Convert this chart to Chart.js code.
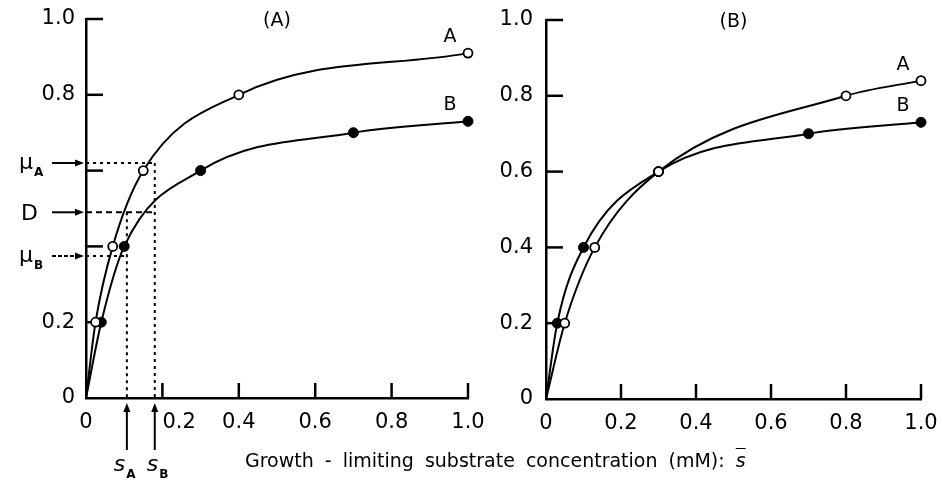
<!DOCTYPE html>
<html>
<head>
<meta charset="utf-8">
<script src="https://cdn.jsdelivr.net/npm/chart.js@4"></script>
<style>
  html, body { margin: 0; padding: 0; background: #fff; }
  #wrap { position: relative; width: 942px; height: 484px; overflow: hidden; }
  .panel { position: absolute; top: 0; height: 484px; }
  #pa { left: 0; width: 510px; }
  #pb { left: 480px; width: 462px; }
  #xtitle {
    position: absolute; left: 245px; top: 448px; white-space: nowrap;
    font-family: "DejaVu Sans", sans-serif; font-size: 19px; line-height: 24px; color: #000;
    word-spacing: 5px;
  }
  #xtitle i { text-decoration: overline; }
</style>
</head>
<body>
<div id="wrap">
  <div class="panel" id="pa"><canvas id="chartA"></canvas></div>
  <div class="panel" id="pb"><canvas id="chartB"></canvas></div>
  <div id="xtitle">Growth - limiting substrate concentration (mM): <i>s</i></div>
</div>
<script>
// tick values
const xTicks = [0, 0.2, 0.4, 0.6, 0.8, 1.0];
const yTicks = [0, 0.2, 0.4, 0.6, 0.8, 1.0];

// panel (A): substrate (mM) and growth rate for organisms A and B
const aSubA = [0, 0.025, 0.07, 0.15, 0.4, 1.0];
const aRateA = [0, 0.2, 0.4, 0.6, 0.8, 0.91];
const aSubB = [0, 0.04, 0.1, 0.3, 0.7, 1.0];
const aRateB = [0, 0.2, 0.4, 0.6, 0.7, 0.73];

// panel (B)
const bSubA = [0, 0.05, 0.13, 0.3, 0.8, 1.0];
const bRateA = [0, 0.2, 0.4, 0.6, 0.8, 0.84];
const bSubB = [0, 0.03, 0.1, 0.3, 0.7, 1.0];
const bRateB = [0, 0.2, 0.4, 0.6, 0.7, 0.73];

// steady state marks in panel (A)
const muA = 0.62;
const dilution = 0.49;
const muB = 0.375;
const sA = 0.107;
const sB = 0.18;

const FONT = '"DejaVu Sans", sans-serif';

function series(xs, ys, open, order) {
  return {
    data: xs.map((x, i) => ({ x: x, y: ys[i] })),
    showLine: true,
    borderColor: '#000',
    borderWidth: 2,
    cubicInterpolationMode: 'monotone',
    pointRadius: c => (c.dataIndex === 0 ? 0 : (open ? 4.5 : 5)),
    pointHoverRadius: 0,
    pointBackgroundColor: open ? '#fff' : '#000',
    pointBorderColor: '#000',
    pointBorderWidth: open ? 1.8 : 1,
    clip: false,
    order: order
  };
}

function line(ctx, x1, y1, x2, y2) {
  ctx.beginPath();
  ctx.moveTo(x1, y1);
  ctx.lineTo(x2, y2);
  ctx.stroke();
}

function arrow(ctx, x1, y1, x2, y2, dash) {
  const a = Math.atan2(y2 - y1, x2 - x1);
  ctx.setLineDash(dash || []);
  line(ctx, x1, y1, x2 - 6 * Math.cos(a), y2 - 6 * Math.sin(a));
  ctx.setLineDash([]);
  ctx.beginPath();
  ctx.moveTo(x2, y2);
  ctx.lineTo(x2 - 9 * Math.cos(a) + 3.5 * Math.sin(a), y2 - 9 * Math.sin(a) - 3.5 * Math.cos(a));
  ctx.lineTo(x2 - 9 * Math.cos(a) - 3.5 * Math.sin(a), y2 - 9 * Math.sin(a) + 3.5 * Math.cos(a));
  ctx.closePath();
  ctx.fill();
}

function subText(ctx, main, sub, x, y, italic) {
  ctx.textAlign = 'left';
  ctx.textBaseline = 'alphabetic';
  ctx.font = (italic ? 'italic ' : '') + '22px ' + FONT;
  ctx.fillText(main, x, y);
  const w = ctx.measureText(main).width;
  ctx.font = 'bold 12px ' + FONT;
  ctx.fillText(sub, x + w + 1, y + 7);
}

// inward tick marks, panel title and curve names
const panelDeco = {
  id: 'panelDeco',
  beforeDatasetsDraw(chart, args, opts) {
    const { ctx, scales: { x, y } } = chart;
    ctx.save();
    ctx.strokeStyle = '#000';
    ctx.lineWidth = 2.5;
    x.ticks.forEach(t => {
      if (t.value === 0) return;
      const px = x.getPixelForValue(t.value);
      line(ctx, px, y.bottom, px, y.bottom - 15);
    });
    y.ticks.forEach(t => {
      if (t.value === 0) return;
      const py = y.getPixelForValue(t.value);
      line(ctx, x.left, py, x.left + 17, py);
    });
    ctx.restore();
  },
  afterDraw(chart, args, opts) {
    const { ctx, scales: { x, y } } = chart;
    ctx.save();
    ctx.fillStyle = '#000';
    ctx.textAlign = 'center';
    ctx.textBaseline = 'middle';
    ctx.font = '19px ' + FONT;
    ctx.fillText(opts.title, x.getPixelForValue(0.5), y.getPixelForValue(1.0) + 2);
    chart.data.datasets.forEach((ds, i) => {
      const last = ds.data[ds.data.length - 1];
      ctx.fillText(opts.names[i], x.getPixelForValue(last.x) - 18, y.getPixelForValue(last.y) - 16);
    });
    ctx.restore();
  }
};

// dotted construction lines of panel (A)
const steadyState = {
  id: 'steadyState',
  afterDraw(chart) {
    const { ctx, scales: { x, y } } = chart;
    const X = v => x.getPixelForValue(v);
    const Y = v => y.getPixelForValue(v);
    ctx.save();
    ctx.strokeStyle = '#000';
    ctx.fillStyle = '#000';
    ctx.lineWidth = 2;
    ctx.setLineDash([3, 4]);
    line(ctx, X(0), Y(muA), X(sB), Y(muA));
    line(ctx, X(sB), Y(muA), X(sB), Y(0));
    line(ctx, X(sA), Y(dilution), X(sA), Y(0));
    line(ctx, X(0), Y(muB), X(sA), Y(muB));
    ctx.setLineDash([6, 4]);
    line(ctx, X(0), Y(dilution), X(sB), Y(dilution));
    ctx.setLineDash([]);
    // arrows on the left
    arrow(ctx, X(0) - 34, Y(muA), X(0) - 2, Y(muA));
    arrow(ctx, X(0) - 34, Y(dilution), X(0) - 2, Y(dilution));
    arrow(ctx, X(0) - 34, Y(muB), X(0) - 2, Y(muB), [4, 2]);
    // arrows below the axis
    arrow(ctx, X(sA), Y(0) + 52, X(sA), Y(0) + 5);
    arrow(ctx, X(sB), Y(0) + 52, X(sB), Y(0) + 5);
    // labels
    subText(ctx, 'μ', 'A', X(0) - 67, Y(muA) + 6, false);
    ctx.font = '22px ' + FONT;
    ctx.fillText('D', X(0) - 65, Y(dilution) + 8);
    subText(ctx, 'μ', 'B', X(0) - 67, Y(muB) + 6, false);
    subText(ctx, 's', 'A', X(sA) - 13, Y(0) + 73, true);
    subText(ctx, 's', 'B', X(sB) - 8, Y(0) + 73, true);
    ctx.restore();
  }
};

function makeChart(id, datasets, layout, yLabel, xLabel, deco, extra) {
  return new Chart(document.getElementById(id), {
    type: 'scatter',
    data: { datasets: datasets },
    plugins: [panelDeco].concat(extra),
    options: {
      responsive: true,
      maintainAspectRatio: false,
      animation: false,
      events: [],
      layout: { padding: layout.padding },
      plugins: {
        legend: { display: false },
        tooltip: { enabled: false },
        panelDeco: deco
      },
      scales: {
        x: {
          type: 'linear', min: 0, max: 1,
          afterBuildTicks: s => { s.ticks = xTicks.map(v => ({ value: v })); },
          afterFit: s => { s.height = layout.xh; s.paddingLeft = 0; s.paddingRight = 0; },
          grid: { display: false, drawTicks: false },
          border: { display: true, color: '#000', width: 2.5 },
          ticks: {
            color: '#000', padding: layout.xpad, maxRotation: 0, autoSkip: false,
            font: { family: FONT, size: 21 },
            callback: xLabel
          }
        },
        y: {
          type: 'linear', min: 0, max: 1,
          afterBuildTicks: s => { s.ticks = yTicks.map(v => ({ value: v })); },
          afterFit: s => { s.width = layout.yw; s.paddingTop = 0; s.paddingBottom = 0; },
          grid: { display: false, drawTicks: false },
          border: { display: true, color: '#000', width: 2.5 },
          ticks: {
            color: '#000', padding: layout.ypad, autoSkip: false,
            font: { family: FONT, size: 21 },
            callback: yLabel
          }
        }
      }
    }
  });
}

const fmt = v => (v === 0 ? '0' : v.toFixed(1));

makeChart('chartA',
  [series(aSubA, aRateA, true, 0), series(aSubB, aRateB, false, 1)],
  { padding: { top: 19, right: 42, left: 0, bottom: 0 }, xh: 86, yw: 86, xpad: 12, ypad: 11 },
  v => (v === 0.4 || v === 0.6 ? '' : fmt(v)),
  v => (v === 0.2 ? '     0.2' : fmt(v)),
  { title: '(A)', names: ['A', 'B'] },
  [steadyState]);

makeChart('chartB',
  [series(bSubA, bRateA, true, 0), series(bSubB, bRateB, false, 1)],
  { padding: { top: 20, right: 21, left: 0, bottom: 0 }, xh: 85, yw: 66, xpad: 12, ypad: 13 },
  fmt,
  fmt,
  { title: '(B)', names: ['A', 'B'] },
  []);
</script>
</body>
</html>
